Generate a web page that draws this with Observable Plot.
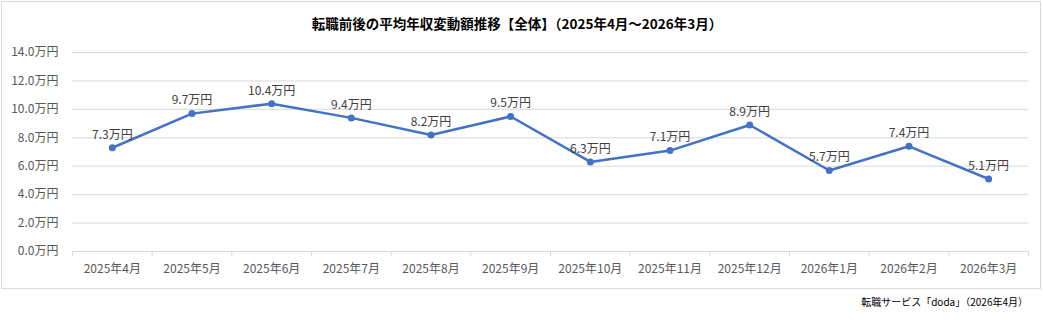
<!DOCTYPE html>
<html>
<head>
<meta charset="utf-8">
<script src="https://cdn.jsdelivr.net/npm/d3@7"></script>
<script src="https://cdn.jsdelivr.net/npm/@observablehq/plot@0.6"></script>
<style>
  html, body { margin: 0; padding: 0; background: #fff; }
  #wrap { position: relative; width: 1043px; height: 320px; font-family: "Noto Sans CJK JP", sans-serif; }
  #frame { position: absolute; left: 1px; top: 1px; width: 1040px; height: 288px; box-sizing: border-box; border: 1px solid #d9d9d9; }
  #title { position: absolute; left: 0; top: 13px; width: 1034px; text-align: center; font-size: 13.5px; font-weight: bold; color: #000; }
  #chart { position: absolute; left: 0; top: 0; }
  #caption { position: absolute; right: 15px; top: 294px; font-size: 10px; color: #000; }
</style>
</head>
<body>
<div id="wrap">
  <div id="frame"></div>
  <div id="chart"></div>
  <div id="title">転職前後の平均年収変動額推移【全体】（2025年4月～2026年3月）</div>
  <div id="caption">転職サービス「doda」（2026年4月）</div>
</div>
<script>
const months = ["2025年4月", "2025年5月", "2025年6月", "2025年7月", "2025年8月", "2025年9月",
                "2025年10月", "2025年11月", "2025年12月", "2026年1月", "2026年2月", "2026年3月"];
const values = [7.3, 9.7, 10.4, 9.4, 8.2, 9.5, 6.3, 7.1, 8.9, 5.7, 7.4, 5.1];
const yTicks = [0, 2, 4, 6, 8, 10, 12, 14];

const data = months.map((m, i) => ({i, month: m, value: values[i]}));
const centers = d3.range(months.length);
const boundaries = d3.range(months.length + 1).map(i => i - 0.5);

const chart = Plot.plot({
  width: 1043,
  height: 290,
  marginTop: 52,
  marginBottom: 39,
  marginLeft: 72,
  marginRight: 15,
  style: {fontFamily: "'Noto Sans CJK JP', sans-serif", fontSize: "12px", background: "transparent", overflow: "visible"},
  x: {type: "linear", domain: [-0.5, months.length - 0.5]},
  y: {domain: [0, 14]},
  marks: [
    Plot.gridY(yTicks, {stroke: "#d9d9d9", strokeOpacity: 1}),
    Plot.ruleY([0], {stroke: "#d9d9d9"}),
    Plot.axisY(yTicks, {tickSize: 0, tickPadding: 14, tickFormat: d => d.toFixed(1) + "万円", fill: "#595959", fontSize: 12, label: null}),
    Plot.axisX(boundaries, {tickSize: 5, tickFormat: () => "", stroke: "#d9d9d9", strokeOpacity: 1, label: null}),
    Plot.axisX(centers, {tickSize: 0, tickPadding: 13, tickFormat: i => months[i], fill: "#595959", fontSize: 12, label: null}),
    Plot.line(data, {x: "i", y: "value", stroke: "#4472C4", strokeWidth: 2.5}),
    Plot.dot(data, {x: "i", y: "value", r: 3.5, fill: "#4472C4"}),
    Plot.text(data, {x: "i", y: "value", text: d => d.value.toFixed(1) + "万円", dy: -13, fill: "#404040", fontSize: 12})
  ]
});
document.getElementById("chart").appendChild(chart);
</script>
</body>
</html>
